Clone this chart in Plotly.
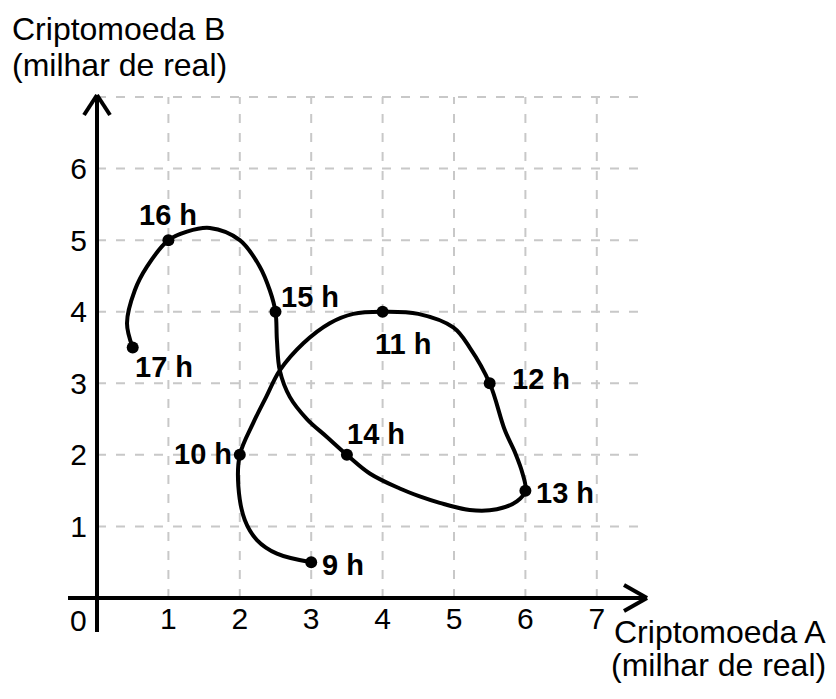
import plotly.graph_objects as go

# leituras do gráfico (milhar de real)
horas = ["9 h", "10 h", "11 h", "12 h", "13 h", "14 h", "15 h", "16 h", "17 h"]
cripto_a = [3, 2, 4, 5.5, 6, 3.5, 2.5, 1, 0.5]
cripto_b = [0.5, 2, 4, 3, 1.5, 2, 4, 5, 3.5]

# pontos lidos ao longo da curva desenhada (das 9 h às 17 h)
trajeto_a = [3, 2.52, 2.24, 2.07, 1.98, 2, 2.19, 2.37, 2.56, 2.89, 3.26, 3.59, 4, 4.5,
             4.99, 5.22, 5.5, 5.71, 5.86, 5.96, 6, 5.88, 5.6, 5.22, 4.8, 4.52, 4.24,
             3.82, 3.5, 3.22, 2.94, 2.7, 2.56, 2.52, 2.5, 2.42, 2.28, 2, 1.58, 1.26,
             1, 0.7, 0.53, 0.42, 0.5]
trajeto_b = [0.5, 0.62, 0.81, 1.09, 1.56, 2, 2.45, 2.81, 3.18, 3.56, 3.84, 3.97, 4, 3.97,
             3.78, 3.5, 3, 2.35, 2.02, 1.74, 1.5, 1.35, 1.24, 1.23, 1.33, 1.42, 1.53,
             1.74, 2, 2.25, 2.5, 2.81, 3.18, 3.6, 4, 4.3, 4.63, 5, 5.17, 5.12,
             5, 4.63, 4.3, 3.84, 3.5]

x_ticks = [1, 2, 3, 4, 5, 6, 7]
y_ticks = [1, 2, 3, 4, 5, 6]
grid_top = 7
grid_right = 7.67

# deslocamento dos rótulos em pixels (dx, dy)
label_shift = {
    "9 h": (32, -3), "10 h": (-37, 1), "11 h": (20, -32), "12 h": (51, 4),
    "13 h": (40, -2), "14 h": (29, 21), "15 h": (34, 15), "16 h": (0, 25),
    "17 h": (31, -19),
}

OFF = 8                      # margem do <body> na página
W, H = 836 - 2 * OFF, 699 - 2 * OFF
X0_PX, Y0_PX = 97 - OFF, 598 - OFF   # origem em pixels
SX, SY = 71.4, 71.57                 # pixels por unidade

xr = [-X0_PX / SX, (W - X0_PX) / SX]
yr = [-(H - Y0_PX) / SY, Y0_PX / SY]

font = "Liberation Sans, Arial, sans-serif"

fig = go.Figure()

fig.add_trace(go.Scatter(
    x=trajeto_a, y=trajeto_b, mode="lines",
    line=dict(color="black", width=4, shape="spline", smoothing=1),
    hoverinfo="skip", showlegend=False,
))
fig.add_trace(go.Scatter(
    x=cripto_a, y=cripto_b, mode="markers",
    marker=dict(color="black", size=12),
    text=horas, showlegend=False,
))

shapes = []
grid = dict(color="#c8c8c8", width=2, dash="9px,10px")
for xv in x_ticks:
    shapes.append(dict(type="line", x0=xv, x1=xv, y0=0, y1=grid_top, line=grid, layer="below"))
for yv in y_ticks + [grid_top]:
    shapes.append(dict(type="line", x0=0, x1=grid_right, y0=yv, y1=yv, line=grid, layer="below"))

axis = dict(color="black", width=4)
# eixo x com seta
x_tip = (647 - 97) / SX
shapes.append(dict(type="line", x0=(68 - 97) / SX, x1=x_tip, y0=0, y1=0, line=axis))
shapes.append(dict(type="line", x0=x_tip - 23 / SX, x1=x_tip, y0=13 / SY, y1=0, line=axis))
shapes.append(dict(type="line", x0=x_tip - 23 / SX, x1=x_tip, y0=-13 / SY, y1=0, line=axis))
# eixo y com seta
y_tip = (598 - 95) / SY
shapes.append(dict(type="line", x0=0, x1=0, y0=-(632 - 598) / SY, y1=y_tip, line=axis))
shapes.append(dict(type="line", x0=-13 / SX, x1=0, y0=y_tip - 20 / SY, y1=y_tip, line=axis))
shapes.append(dict(type="line", x0=13 / SX, x1=0, y0=y_tip - 20 / SY, y1=y_tip, line=axis))

annotations = []
for h, xa, yb in zip(horas, cripto_a, cripto_b):
    dx, dy = label_shift[h]
    annotations.append(dict(
        x=xa, y=yb, text=h, showarrow=False, xshift=dx, yshift=dy,
        font=dict(family=font, size=29, color="black", weight="bold"),
    ))

annotations.append(dict(x=-19 / SX, y=-22 / SY, text="0", showarrow=False,
                        font=dict(family=font, size=30, color="black")))


def title(text, px, py, anchor):
    return dict(xref="paper", yref="paper", x=px / W, y=1 - py / H, text=text,
                showarrow=False, xanchor=anchor, yanchor="middle",
                font=dict(family=font, size=32, color="black"))


annotations += [
    title("Criptomoeda B", 2, 21, "left"),
    title("(milhar de real)", 2, 57, "left"),
    title("Criptomoeda A", W, 624, "right"),
    title("(milhar de real)", W, 657, "right"),
]

fig.update_layout(
    width=W, height=H,
    margin=dict(l=0, r=0, t=0, b=0),
    plot_bgcolor="white", paper_bgcolor="white",
    shapes=shapes, annotations=annotations,
    xaxis=dict(range=xr, showgrid=False, zeroline=False, showline=False,
               tickvals=x_ticks, ticks="", anchor="free", position=(H - Y0_PX) / H,
               tickfont=dict(family=font, size=30, color="black"), ticklabelstandoff=0),
    yaxis=dict(range=yr, showgrid=False, zeroline=False, showline=False,
               tickvals=y_ticks, ticks="", anchor="free", position=X0_PX / W,
               tickfont=dict(family=font, size=30, color="black"), ticklabelstandoff=10),
)

fig.write_html("out.html")
